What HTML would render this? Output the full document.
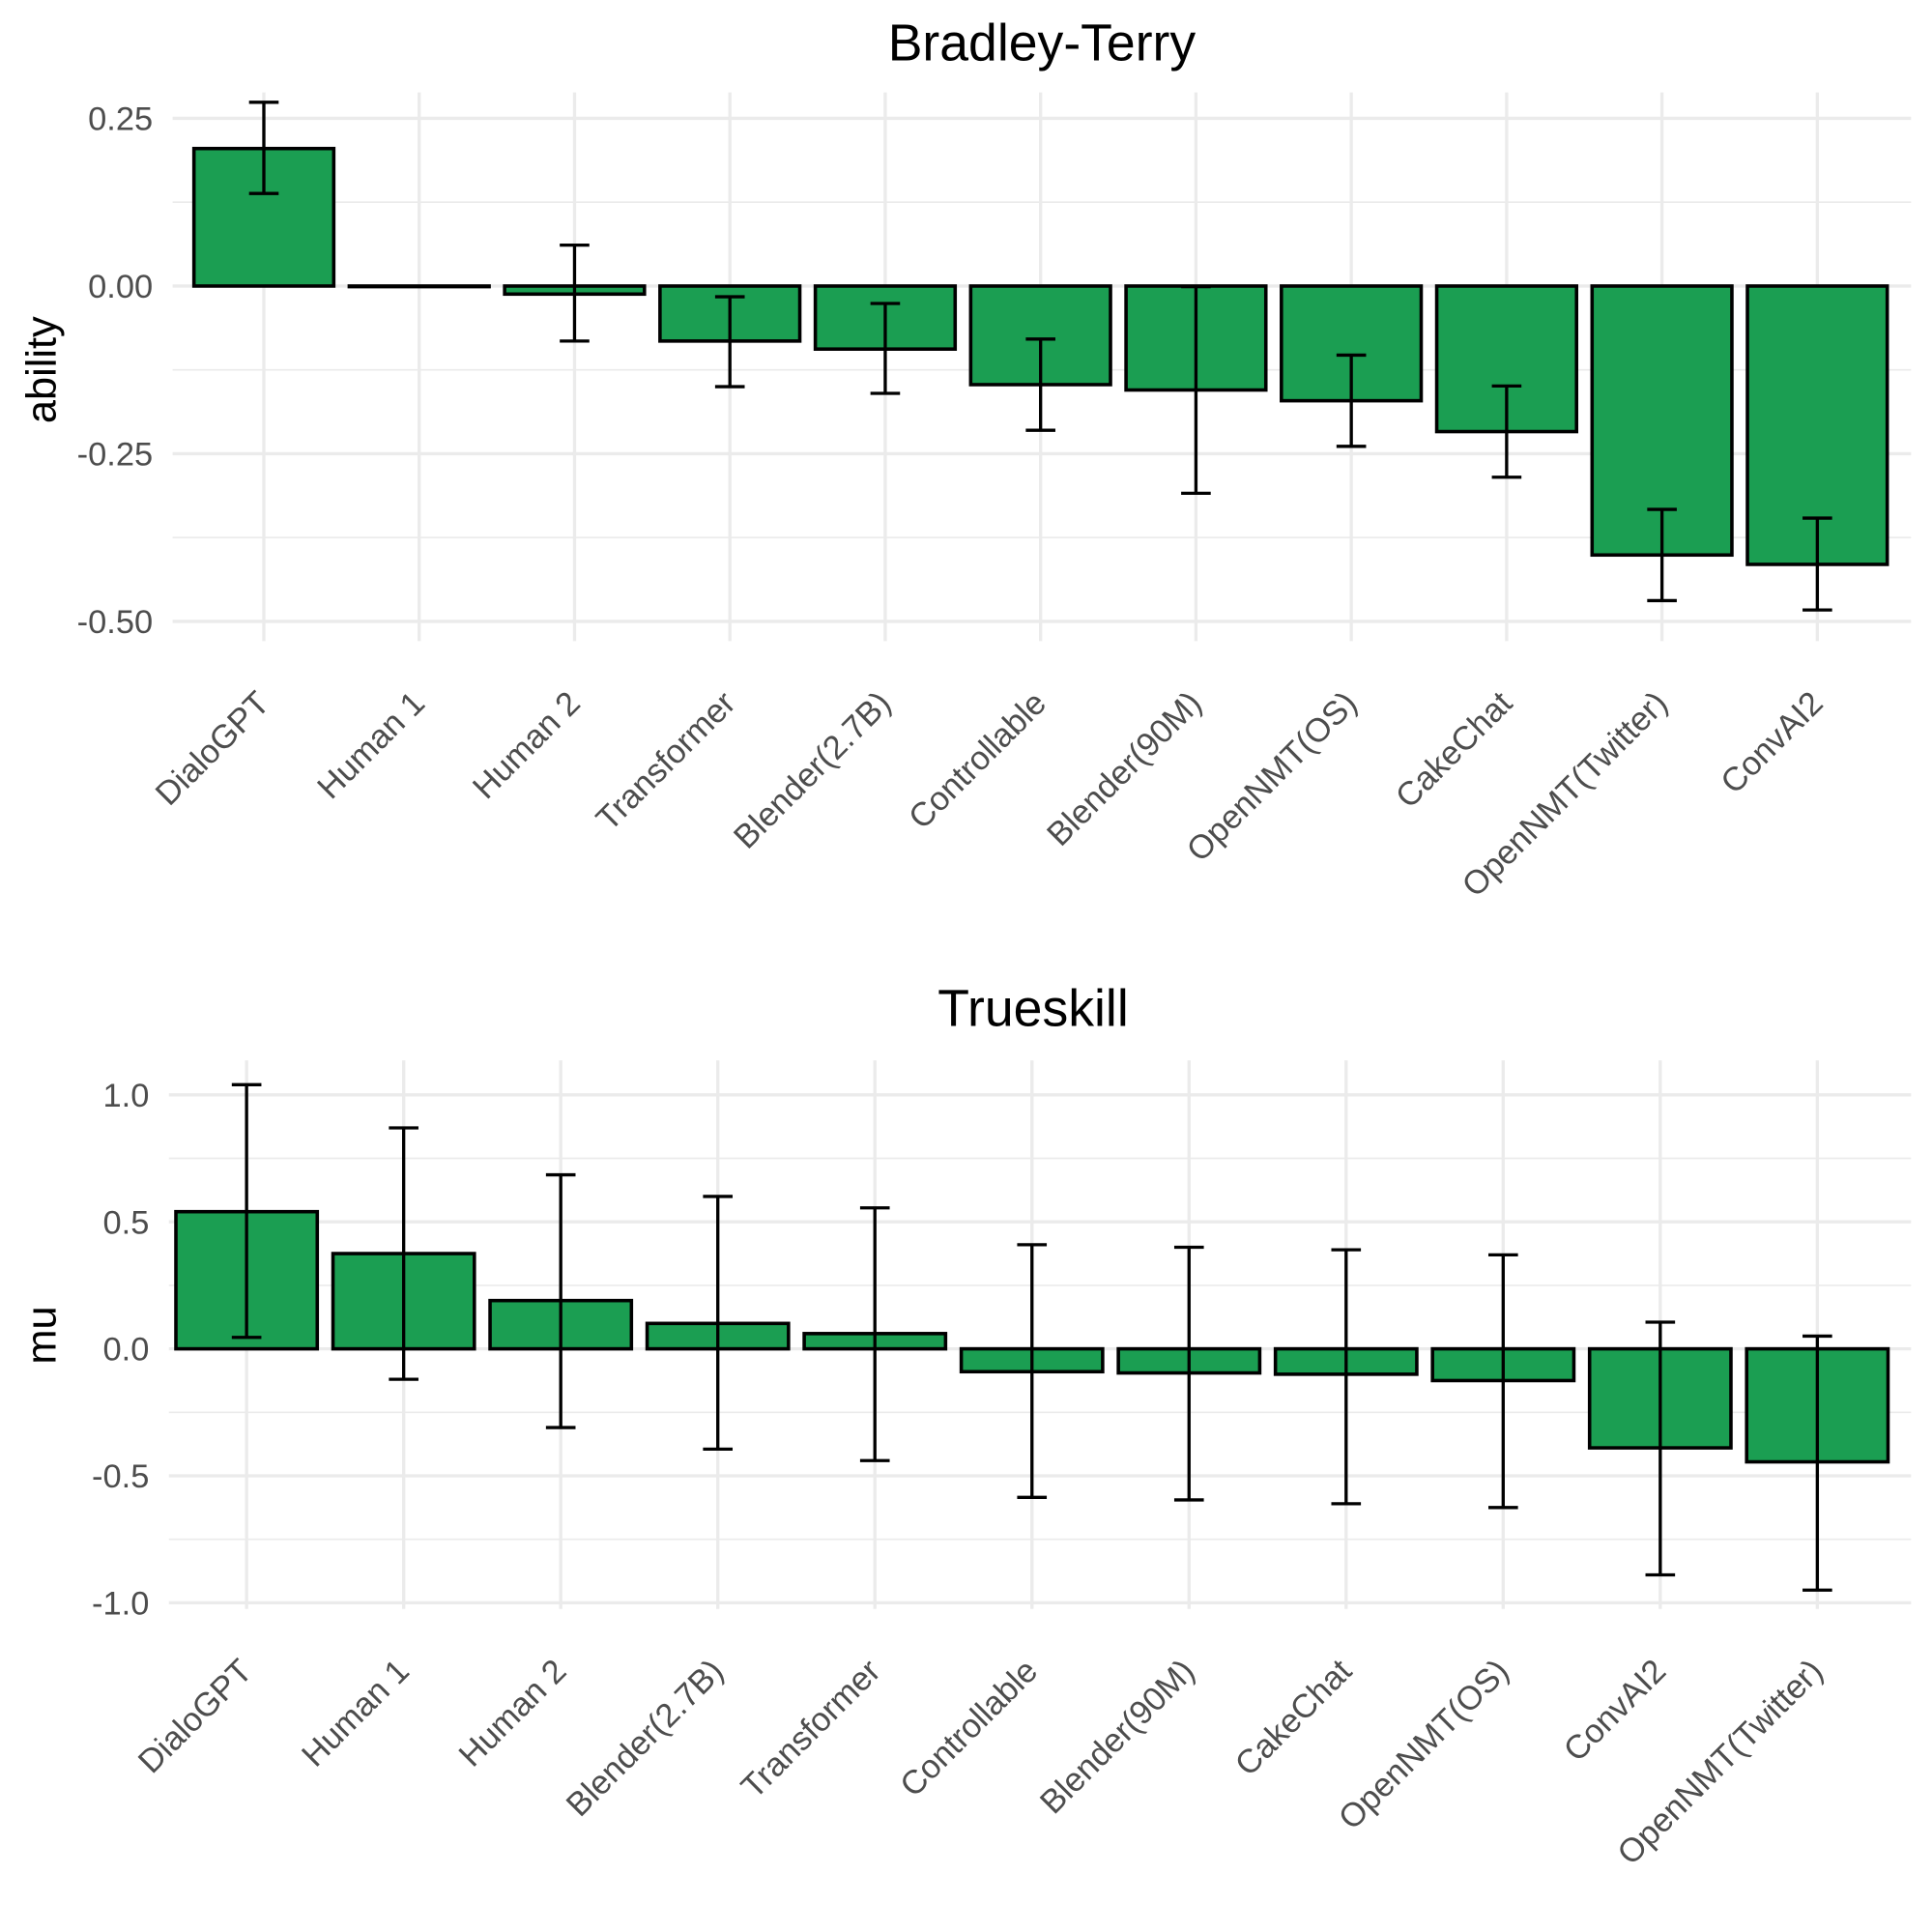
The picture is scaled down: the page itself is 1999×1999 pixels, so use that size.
<!DOCTYPE html>
<html><head><meta charset="utf-8"><style>html,body{margin:0;padding:0;background:#fff}svg{display:block}text{font-family:"Liberation Sans",sans-serif}</style></head>
<body>
<svg id="chart" width="1999" height="1999" viewBox="0 0 1567 1567" xmlns="http://www.w3.org/2000/svg">
<text x="845" y="49" font-size="42" text-anchor="middle">Bradley-Terry</text>
<text x="838" y="832" font-size="42" text-anchor="middle">Trueskill</text>
<text transform="translate(45,300) rotate(-90)" font-size="34" text-anchor="middle">ability</text>
<text transform="translate(45,1083) rotate(-90)" font-size="34" text-anchor="middle">mu</text>
<g id="p1"></g><g id="p2"></g>
</svg>
<script>
const btCategories=["DialoGPT","Human 1","Human 2","Transformer","Blender(2.7B)","Controllable","Blender(90M)","OpenNMT(OS)","CakeChat","OpenNMT(Twitter)","ConvAI2"];
const btValues=[0.205,0,-0.012,-0.082,-0.094,-0.147,-0.155,-0.171,-0.217,-0.401,-0.415];
const btUpper=[0.274,0,0.061,-0.016,-0.026,-0.079,-0.001,-0.103,-0.149,-0.333,-0.346];
const btLower=[0.138,0,-0.082,-0.150,-0.160,-0.215,-0.309,-0.239,-0.285,-0.469,-0.483];
const btTicks=[0.25,0,-0.25,-0.5];
const btTickLabels=["0.25","0.00","-0.25","-0.50"];
const btMinor=[0.125,-0.125,-0.375];
const tsCategories=["DialoGPT","Human 1","Human 2","Blender(2.7B)","Transformer","Controllable","Blender(90M)","CakeChat","OpenNMT(OS)","ConvAI2","OpenNMT(Twitter)"];
const tsValues=[0.54,0.375,0.19,0.10,0.06,-0.09,-0.095,-0.10,-0.125,-0.39,-0.445];
const tsUpper=[1.04,0.87,0.685,0.60,0.555,0.41,0.40,0.39,0.37,0.105,0.05];
const tsLower=[0.045,-0.12,-0.31,-0.395,-0.44,-0.585,-0.595,-0.61,-0.625,-0.89,-0.95];
const tsTicks=[1,0.5,0,-0.5,-1];
const tsTickLabels=["1.0","0.5","0.0","-0.5","-1.0"];
const tsMinor=[0.75,0.25,-0.25,-0.75];
const NS="http://www.w3.org/2000/svg";
function mk(g,tag,a){const e=document.createElementNS(NS,tag);for(const k in a)e.setAttribute(k,a[k]);g.appendChild(e);return e;}
function panel(gid,cfg){
  const g=document.getElementById(gid);
  const y=v=>cfg.y0-(v)*cfg.ypu;
  const x=i=>cfg.x0+i*cfg.dx;
  cfg.minor.forEach(v=>{const l=mk(g,'line',{x1:cfg.left,x2:cfg.right,y1:y(v),y2:y(v),stroke:'#ebebeb','stroke-width':1.3});
    
    });
  cfg.ticks.forEach((v,i)=>{const l=mk(g,'line',{x1:cfg.left,x2:cfg.right,y1:y(v),y2:y(v),stroke:'#ebebeb','stroke-width':2.6});
    
    
    const t=mk(g,'text',{x:cfg.left-16,y:y(v)+9.5,'font-size':27,fill:'#4d4d4d','text-anchor':'end'});t.textContent=cfg.labels[i];
    
    });
  cfg.cats.forEach((c,i)=>{const l=mk(g,'line',{x1:x(i),x2:x(i),y1:cfg.top,y2:cfg.bottom,stroke:'#ebebeb','stroke-width':2.6});
    
    });
  cfg.cats.forEach((c,i)=>{const v=cfg.vals[i];const bw=cfg.dx*0.9;
    const r=mk(g,'rect',{x:x(i)-bw/2,y:Math.min(y(v),y(0)),width:bw,height:Math.max(Math.abs(y(v)-y(0)),0.5),fill:'#1b9e52',stroke:'#000','stroke-width':2.8});
    
    
    if(cfg.up[i]!==cfg.lo[i]){
      const e=mk(g,'path',{d:`M${x(i)-12},${y(cfg.up[i])}H${x(i)+12}M${x(i)},${y(cfg.up[i])}V${y(cfg.lo[i])}M${x(i)-12},${y(cfg.lo[i])}H${x(i)+12}`,stroke:'#000','stroke-width':2.6,fill:'none'});
      
      }
    const t=mk(g,'text',{transform:`translate(${x(i)+6},${cfg.bottom+52}) rotate(-45)`,'font-size':27,fill:'#4d4d4d','text-anchor':'end'});t.textContent=c;
    
    });
}
panel('p1',{cats:btCategories,vals:btValues,up:btUpper,lo:btLower,ticks:btTicks,labels:btTickLabels,minor:btMinor,y0:232,ypu:544,x0:214,dx:126,left:140,right:1550,top:75,bottom:520});
panel('p2',{cats:tsCategories,vals:tsValues,up:tsUpper,lo:tsLower,ticks:tsTicks,labels:tsTickLabels,minor:tsMinor,y0:1094,ypu:206,x0:200,dx:127.4,left:137,right:1550,top:860,bottom:1305});
</script>
</body></html>
